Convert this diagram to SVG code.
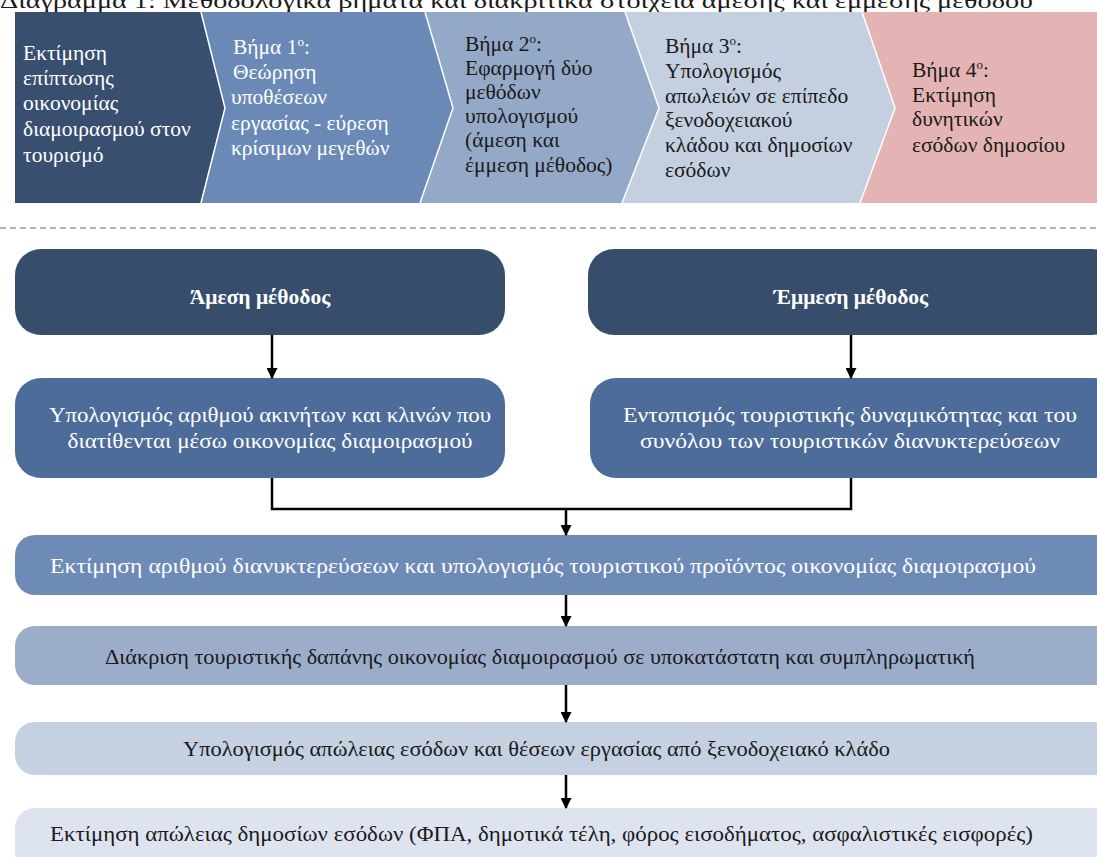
<svg xmlns="http://www.w3.org/2000/svg" width="1097" height="857" viewBox="0 0 1097 857">
<style>
  .t { font-family: "Liberation Serif", "Times New Roman", serif; font-size: 21.5px; }
  .b { font-size: 21.5px; }
  .w { fill: #ffffff; }
  .k { fill: #1a1a1a; }
  .sep { stroke: #ffffff; stroke-width: 1.5; fill: none; }
  .c { text-anchor: middle; }
  .conn { stroke: #000; stroke-width: 2.5; fill: none; }
  .sup { font-size: 13px; }
</style>
<defs>
  <marker id="ah" markerWidth="11" markerHeight="11" refX="10" refY="5.5" orient="auto" markerUnits="userSpaceOnUse" viewBox="0 0 11 11">
    <path d="M0,0 L11,5.5 L0,11 Z" fill="#000"/>
  </marker>
</defs>
<rect width="1097" height="857" fill="#ffffff"/>
<text class="t k" x="0" y="8" font-size="25" textLength="1033" lengthAdjust="spacingAndGlyphs">Διάγραμμα 1: Μεθοδολογικά βήματα και διακριτικά στοιχεία άμεσης και έμμεσης μεθόδου</text>

<g id="step0">
  <polygon points="15,12 201,12 225,108 201,203 15,203" fill="#394f6f"/>
  <text class="t w"><tspan x="23" y="60">Εκτίμηση</tspan><tspan x="23" y="85">επίπτωσης</tspan><tspan x="23" y="110">οικονομίας</tspan><tspan x="23" y="136">διαμοιρασμού στον</tspan><tspan x="23" y="162">τουρισμό</tspan></text>
</g>
<g id="step1">
  <polygon points="201,12 425,12 453,108 420,203 201,203 225,108" fill="#6b89b7"/>
  <text class="t w"><tspan x="233" y="54">Βήμα 1</tspan><tspan class="sup" dy="-8">ο</tspan><tspan dy="8">:</tspan><tspan x="233" y="79">Θεώρηση</tspan><tspan x="231" y="104">υποθέσεων</tspan><tspan x="231" y="130">εργασίας - εύρεση</tspan><tspan x="231" y="155">κρίσιμων μεγεθών</tspan></text>
</g>
<g id="step2">
  <polygon points="425,12 625,12 659,108 622,203 420,203 453,108" fill="#94a8c8"/>
  <text class="t k"><tspan x="465" y="51">Βήμα 2</tspan><tspan class="sup" dy="-8">ο</tspan><tspan dy="8">:</tspan><tspan x="465" y="75">Εφαρμογή δύο</tspan><tspan x="465" y="99">μεθόδων</tspan><tspan x="465" y="123">υπολογισμού</tspan><tspan x="465" y="147">(άμεση και</tspan><tspan x="465" y="172">έμμεση μέθοδος)</tspan></text>
</g>
<g id="step3">
  <polygon points="625,12 862,12 895,108 860,203 622,203 659,108" fill="#c4cfe0"/>
  <text class="t k"><tspan x="665" y="53">Βήμα 3</tspan><tspan class="sup" dy="-8">ο</tspan><tspan dy="8">:</tspan><tspan x="665" y="78">Υπολογισμός</tspan><tspan x="665" y="103">απωλειών σε επίπεδο</tspan><tspan x="665" y="127">ξενοδοχειακού</tspan><tspan x="665" y="152">κλάδου και δημοσίων</tspan><tspan x="665" y="177">εσόδων</tspan></text>
</g>
<g id="step4">
  <polygon points="862,12 1097,12 1097,203 860,203 895,108" fill="#e4b4b4"/>
  <text class="t k"><tspan x="912" y="77">Βήμα 4</tspan><tspan class="sup" dy="-8">ο</tspan><tspan dy="8">:</tspan><tspan x="912" y="102">Εκτίμηση</tspan><tspan x="912" y="126">δυνητικών</tspan><tspan x="912" y="152">εσόδων δημοσίου</tspan></text>
</g>
<g id="separators">
  <polyline class="sep" points="201,12 225,108 201,203"/>
  <polyline class="sep" points="425,12 453,108 420,203"/>
  <polyline class="sep" points="625,12 659,108 622,203"/>
  <polyline class="sep" points="862,12 895,108 860,203"/>
</g>

<line x1="0" y1="228" x2="1097" y2="228" stroke="#666" stroke-width="1.2" stroke-dasharray="6,4"/>

<g id="direct">
  <rect x="15" y="249" width="490" height="86" rx="26" fill="#374d6c"/>
  <text class="t w c b" x="260" y="304" font-weight="bold">Άμεση μέθοδος</text>
</g>
<g id="indirect">
  <rect x="588" y="249" width="530" height="86" rx="26" fill="#374d6c"/>
  <text class="t w c b" x="851" y="304" font-weight="bold">Έμμεση μέθοδος</text>
</g>
<g id="direct2">
  <rect x="15" y="378" width="490" height="100" rx="26" fill="#4e6c9a"/>
  <text class="t w c" font-size="22"><tspan x="270" y="422" textLength="442" lengthAdjust="spacingAndGlyphs">Υπολογισμός αριθμού ακινήτων και κλινών που</tspan><tspan x="270" y="448" textLength="405" lengthAdjust="spacingAndGlyphs">διατίθενται μέσω οικονομίας διαμοιρασμού</tspan></text>
</g>
<g id="indirect2">
  <rect x="590" y="378" width="530" height="100" rx="26" fill="#4e6c9a"/>
  <text class="t w c" font-size="22"><tspan x="850" y="422" textLength="454" lengthAdjust="spacingAndGlyphs">Εντοπισμός τουριστικής δυναμικότητας και του</tspan><tspan x="850" y="448" textLength="420" lengthAdjust="spacingAndGlyphs">συνόλου των τουριστικών διανυκτερεύσεων</tspan></text>
</g>
<g id="nights">
  <rect x="15" y="535" width="1110" height="60" rx="20" fill="#6e8bb8"/>
  <text class="t w" x="50" y="573" font-size="22" textLength="986" lengthAdjust="spacingAndGlyphs">Εκτίμηση  αριθμού διανυκτερεύσεων και υπολογισμός τουριστικού προϊόντος οικονομίας διαμοιρασμού</text>
</g>
<g id="spending">
  <rect x="15" y="626" width="1110" height="59" rx="20" fill="#9cadca"/>
  <text class="t k" x="105" y="664" font-size="22" textLength="870" lengthAdjust="spacingAndGlyphs">Διάκριση τουριστικής δαπάνης οικονομίας διαμοιρασμού σε υποκατάστατη και συμπληρωματική</text>
</g>
<g id="hotel">
  <rect x="15" y="722" width="1110" height="53" rx="20" fill="#c5d0e1"/>
  <text class="t k" x="183" y="756" font-size="22" textLength="707" lengthAdjust="spacingAndGlyphs">Υπολογισμός απώλειας εσόδων και θέσεων εργασίας από ξενοδοχειακό κλάδο</text>
</g>
<g id="public">
  <rect x="15" y="808" width="1110" height="80" rx="20" fill="#dee4ef"/>
  <text class="t k" x="50" y="841" font-size="22" textLength="983" lengthAdjust="spacingAndGlyphs">Εκτίμηση  απώλειας δημοσίων εσόδων (ΦΠΑ, δημοτικά τέλη, φόρος εισοδήματος, ασφαλιστικές εισφορές)</text>
</g>

<g id="connectors">
  <line class="conn" x1="272" y1="335" x2="272" y2="378" marker-end="url(#ah)"/>
  <line class="conn" x1="851" y1="335" x2="851" y2="378" marker-end="url(#ah)"/>
  <polyline class="conn" points="272,478 272,509 851,509 851,478"/>
  <line class="conn" x1="566" y1="509" x2="566" y2="535" marker-end="url(#ah)"/>
  <line class="conn" x1="566" y1="595" x2="566" y2="626" marker-end="url(#ah)"/>
  <line class="conn" x1="566" y1="685" x2="566" y2="722" marker-end="url(#ah)"/>
  <line class="conn" x1="566" y1="775" x2="566" y2="808" marker-end="url(#ah)"/>
</g>
</svg>
